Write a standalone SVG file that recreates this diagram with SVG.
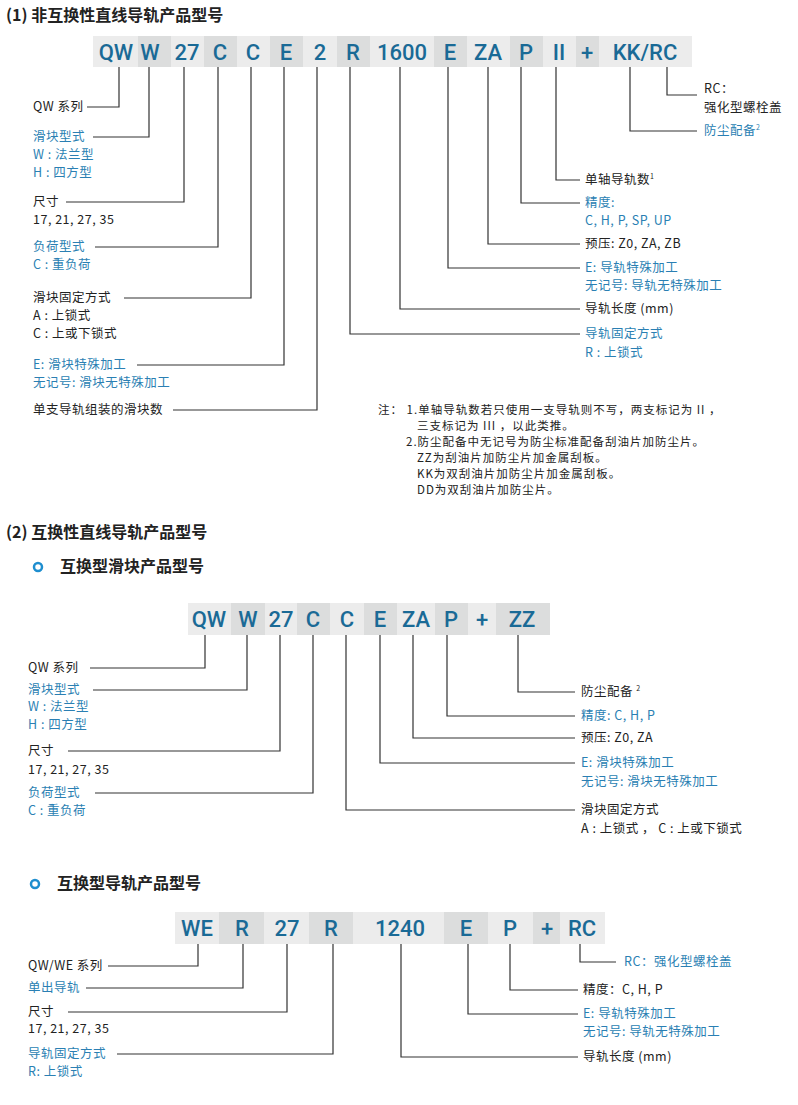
<svg xmlns="http://www.w3.org/2000/svg" width="798" height="1105" viewBox="0 0 798 1105">
<style>
.l{fill:#ececec}.d{fill:#dcdddd}
.c{font-family:Roboto,"Noto Sans CJK SC",sans-serif;font-size:22px;font-weight:500;fill:#1a6a96;text-anchor:middle}
.t{font-family:"Noto Sans CJK SC",sans-serif;font-size:12.5px;letter-spacing:0.5px;fill:#222}
.b{fill:#2a7fb3}
.h{font-family:"Noto Sans CJK SC",sans-serif;font-size:16px;font-weight:700;fill:#222}
.n{font-family:"Noto Sans CJK SC",sans-serif;font-size:11.5px;letter-spacing:1px;fill:#222}
#conn path{fill:none;stroke:#333;stroke-width:1.2}
</style>
<rect width="798" height="1105" fill="#fff"/>
<text class="h" x="6" y="21">(1) 非互换性直线导轨产品型号</text>
<text class="h" x="6" y="538">(2) 互换性直线导轨产品型号</text>
<circle cx="38" cy="567" r="4" fill="none" stroke="#1e8ecf" stroke-width="2.5"/>
<text class="h" x="60" y="572">互换型滑块产品型号</text>
<circle cx="35" cy="884" r="4" fill="none" stroke="#1e8ecf" stroke-width="2.5"/>
<text class="h" x="57" y="889">互换型导轨产品型号</text>

<g id="row1">
<rect class="l" x="93" y="36" width="45" height="31"/><rect class="d" x="138" y="36" width="33" height="31"/><rect class="l" x="171" y="36" width="33" height="31"/><rect class="d" x="204" y="36" width="33" height="31"/><rect class="l" x="237" y="36" width="33" height="31"/><rect class="d" x="270" y="36" width="33" height="31"/><rect class="l" x="303" y="36" width="34" height="31"/><rect class="d" x="337" y="36" width="33" height="31"/><rect class="l" x="370" y="36" width="64" height="31"/><rect class="d" x="434" y="36" width="33" height="31"/><rect class="l" x="467" y="36" width="43" height="31"/><rect class="d" x="510" y="36" width="33" height="31"/><rect class="l" x="543" y="36" width="33" height="31"/><rect class="d" x="576" y="36" width="23" height="31"/><rect class="l" x="599" y="36" width="93" height="31"/>
<text class="c" x="116" y="60">QW</text><text class="c" x="150" y="60">W</text><text class="c" x="187" y="60">27</text><text class="c" x="220" y="60">C</text><text class="c" x="253" y="60">C</text><text class="c" x="286" y="60">E</text><text class="c" x="320" y="60">2</text><text class="c" x="353" y="60">R</text><text class="c" x="402" y="60">1600</text><text class="c" x="450" y="60">E</text><text class="c" x="488" y="60">ZA</text><text class="c" x="526" y="60">P</text><text class="c" x="559" y="60">II</text><text class="c" x="587" y="60">+</text><text class="c" x="645" y="60">KK/RC</text>
</g>
<g id="row2">
<rect class="l" x="188" y="603" width="43" height="32"/><rect class="d" x="231" y="603" width="34" height="32"/><rect class="l" x="265" y="603" width="32" height="32"/><rect class="d" x="297" y="603" width="33" height="32"/><rect class="l" x="330" y="603" width="34" height="32"/><rect class="d" x="364" y="603" width="33" height="32"/><rect class="l" x="397" y="603" width="38" height="32"/><rect class="d" x="435" y="603" width="33" height="32"/><rect class="l" x="468" y="603" width="28" height="32"/><rect class="d" x="496" y="603" width="54" height="32"/>
<text class="c" x="209" y="627">QW</text><text class="c" x="248" y="627">W</text><text class="c" x="281" y="627">27</text><text class="c" x="313" y="627">C</text><text class="c" x="347" y="627">C</text><text class="c" x="380" y="627">E</text><text class="c" x="416" y="627">ZA</text><text class="c" x="451" y="627">P</text><text class="c" x="482" y="627">+</text><text class="c" x="522" y="627">ZZ</text>
</g>
<g id="row3">
<rect class="l" x="175" y="912" width="44" height="32"/><rect class="d" x="219" y="912" width="45" height="32"/><rect class="l" x="264" y="912" width="45" height="32"/><rect class="d" x="309" y="912" width="44" height="32"/><rect class="l" x="353" y="912" width="91" height="32"/><rect class="d" x="444" y="912" width="44" height="32"/><rect class="l" x="488" y="912" width="45" height="32"/><rect class="d" x="533" y="912" width="27" height="32"/><rect class="l" x="560" y="912" width="45" height="32"/>
<text class="c" x="197" y="936">WE</text><text class="c" x="242" y="936">R</text><text class="c" x="287" y="936">27</text><text class="c" x="331" y="936">R</text><text class="c" x="400" y="936">1240</text><text class="c" x="466" y="936">E</text><text class="c" x="510" y="936">P</text><text class="c" x="547" y="936">+</text><text class="c" x="582" y="936">RC</text>
</g>

<g id="conn">
<path d="M119 67V107H87"/><path d="M149 67V137H93"/><path d="M184 67V202H66"/><path d="M218 67V247H95"/><path d="M251 67V298H124"/><path d="M284 67V365H137"/><path d="M317 67V410H173"/><path d="M350 67V334H580"/><path d="M400 67V309H580"/><path d="M448 67V268H580"/><path d="M488 67V244H580"/><path d="M521 67V203H580"/><path d="M556 67V180H580"/><path d="M630 67V131H697"/><path d="M667 67V95H697"/>
<path d="M205 635V668H90"/><path d="M247 635V690H93"/><path d="M280 635V751H68"/><path d="M313 635V793H95"/><path d="M346 635V810H575"/><path d="M380 635V763H575"/><path d="M413 635V738H575"/><path d="M447 635V716H575"/><path d="M518 635V692H575"/>
<path d="M198 944V966H108"/><path d="M243 944V988H86"/><path d="M287 944V1012H68"/><path d="M333 944V1054H117"/><path d="M401 944V1057H578"/><path d="M468 944V1014H578"/><path d="M510 944V990H578"/><path d="M580 944V962H616"/>
</g>

<g id="labels1">
<text class="t" x="33" y="111">QW 系列</text>
<text class="t b" x="33" y="141">滑块型式</text><text class="t b" x="33" y="159">W : 法兰型</text><text class="t b" x="33" y="177">H : 四方型</text>
<text class="t" x="33" y="206">尺寸</text><text class="t" x="33" y="224">17, 21, 27, 35</text>
<text class="t b" x="33" y="251">负荷型式</text><text class="t b" x="33" y="269">C : 重负荷</text>
<text class="t" x="33" y="302">滑块固定方式</text><text class="t" x="33" y="320">A : 上锁式</text><text class="t" x="33" y="338">C : 上或下锁式</text>
<text class="t b" x="33" y="369">E: 滑块特殊加工</text><text class="t b" x="33" y="387">无记号: 滑块无特殊加工</text>
<text class="t" x="33" y="414">单支导轨组装的滑块数</text>
<text class="t" x="704" y="93">RC：</text><text class="t" x="704" y="112">强化型螺栓盖</text>
<text class="t b" x="704" y="135">防尘配备<tspan font-size="7" dy="-5">2</tspan></text>
<text class="t" x="585" y="184">单轴导轨数<tspan font-size="7" dy="-5">1</tspan></text>
<text class="t b" x="585" y="207">精度:</text><text class="t b" x="585" y="225">C, H, P, SP, UP</text>
<text class="t" x="585" y="248">预压: Z0, ZA, ZB</text>
<text class="t b" x="585" y="272">E: 导轨特殊加工</text><text class="t b" x="585" y="290">无记号: 导轨无特殊加工</text>
<text class="t" x="585" y="313">导轨长度 (mm)</text>
<text class="t b" x="585" y="338">导轨固定方式</text><text class="t b" x="585" y="357">R : 上锁式</text>
</g>
<g id="notes">
<text class="n" x="378" y="414">注： 1.单轴导轨数若只使用一支导轨则不写，两支标记为 II ，</text>
<text class="n" x="417" y="430">三支标记为 III ，以此类推。</text>
<text class="n" x="406" y="446">2.防尘配备中无记号为防尘标准配备刮油片加防尘片。</text>
<text class="n" x="417" y="462">ZZ为刮油片加防尘片加金属刮板。</text>
<text class="n" x="417" y="478">KK为双刮油片加防尘片加金属刮板。</text>
<text class="n" x="417" y="494">DD为双刮油片加防尘片。</text>
</g>
<g id="labels2">
<text class="t" x="28" y="672">QW 系列</text>
<text class="t b" x="28" y="694">滑块型式</text><text class="t b" x="28" y="711">W : 法兰型</text><text class="t b" x="28" y="729">H : 四方型</text>
<text class="t" x="28" y="755">尺寸</text><text class="t" x="28" y="774">17, 21, 27, 35</text>
<text class="t b" x="28" y="797">负荷型式</text><text class="t b" x="28" y="815">C : 重负荷</text>
<text class="t" x="581" y="696">防尘配备 <tspan font-size="7" dy="-5">2</tspan></text>
<text class="t b" x="581" y="720">精度: C, H, P</text>
<text class="t" x="581" y="742">预压:  Z0, ZA</text>
<text class="t b" x="581" y="767">E: 滑块特殊加工</text><text class="t b" x="581" y="786">无记号: 滑块无特殊加工</text>
<text class="t" x="581" y="814">滑块固定方式</text><text class="t" x="581" y="833">A : 上锁式 ， C : 上或下锁式</text>
</g>
<g id="labels3">
<text class="t" x="28" y="970">QW/WE 系列</text>
<text class="t b" x="28" y="992">单出导轨</text>
<text class="t" x="28" y="1016">尺寸</text><text class="t" x="28" y="1033">17, 21, 27, 35</text>
<text class="t b" x="28" y="1058">导轨固定方式</text><text class="t b" x="28" y="1076">R: 上锁式</text>
<text class="t b" x="624" y="966">RC：强化型螺栓盖</text>
<text class="t" x="583" y="994">精度：C, H, P</text>
<text class="t b" x="583" y="1018">E: 导轨特殊加工</text><text class="t b" x="583" y="1036">无记号: 导轨无特殊加工</text>
<text class="t" x="583" y="1061">导轨长度 (mm)</text>
</g>
</svg>
